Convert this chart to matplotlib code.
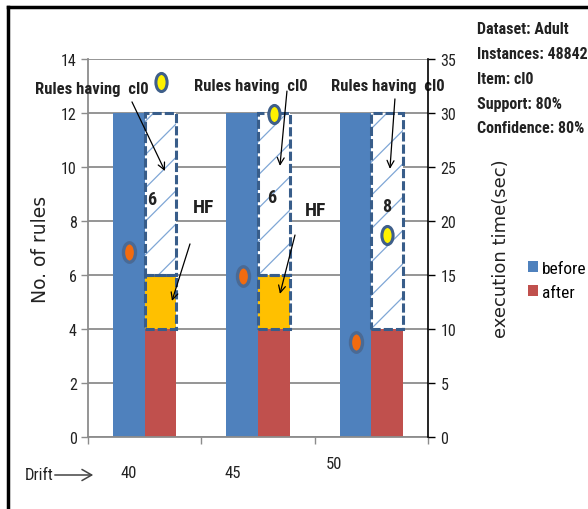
import numpy as np
import matplotlib
matplotlib.use("Agg")
import matplotlib.pyplot as plt
from matplotlib import font_manager
from matplotlib.path import Path
from matplotlib.transforms import Affine2D
from matplotlib.lines import Line2D
from matplotlib.patches import FancyArrowPatch

# valores do grafico
drift = ["40", "45", "50"]
regras_antes = [12, 12, 12]
regras_depois = [4, 4, 4]
regras_hf = [2, 2, 0]
regras_cl0 = [6, 6, 8]
tempo_antes = [17.1, 14.9, 8.8]
tempo_depois = [32.9, 29.9, 18.7]
info = ["Dataset: Adult", "Instances: 48842", "Item: cl0", "Support: 80%", "Confidence: 80%"]

azul = "#4F81BD"
vermelho = "#C0504D"
amarelo = "#FFC000"
borda = "#385D8A"
grade = "#8C8C8C"
texto = "#222222"

# fonte estreita, se houver
instaladas = {f.name for f in font_manager.fontManager.ttflist}
candidatas = ["Liberation Sans Narrow", "DejaVu Sans Condensed", "Roboto Condensed",
              "Open Sans Condensed", "Noto Sans Condensed"]
estreita = [c for c in candidatas if c in instaladas][:1] + ["DejaVu Sans"]
esc = 1.0 if len(estreita) > 1 and estreita[0] != "DejaVu Sans" else 0.86

plt.rcParams["hatch.linewidth"] = 0.9

fig = plt.figure(figsize=(5.88, 5.10), dpi=100)
ax = fig.add_axes([0.1497, 0.1412, 0.578, 0.7412])

x = np.arange(len(drift))
w = 0.28

b1 = ax.bar(x - w / 2, regras_antes, w, color=azul, label="before", zorder=2)
b2 = ax.bar(x + w / 2, regras_depois, w, color=vermelho, label="after", zorder=2)

# caixas tracejadas sobre as barras "after"
base_hf = np.array(regras_depois)
base_cl0 = base_hf + np.array(regras_hf)
ax.bar(x + w / 2, regras_hf, w, bottom=base_hf, color=amarelo, zorder=3)
ax.bar(x + w / 2, regras_cl0, w, bottom=base_cl0, color="white",
       edgecolor="#7FA6D6", hatch="/", linewidth=0, zorder=3)
for i in range(len(drift)):
    if regras_hf[i] > 0:
        ax.bar(x[i] + w / 2, regras_hf[i], w, bottom=base_hf[i], fill=False,
               edgecolor=borda, linewidth=2.2, linestyle=(0, (3, 1)), zorder=4)
    ax.bar(x[i] + w / 2, regras_cl0[i], w, bottom=base_cl0[i], fill=False,
           edgecolor=borda, linewidth=2.2, linestyle=(0, (3, 1)), zorder=4)

ax.set_xlim(-0.5, 2.5)
ax.set_ylim(0, 14)
ax.set_yticks(range(0, 15, 2))
ax.set_xticks([])
ax.set_xticks([-0.5, 0.5, 1.5, 2.5], minor=True)
ax.tick_params(axis="x", which="minor", length=5, color=grade, width=1)
ax.tick_params(axis="y", length=5, color=grade, width=1, labelsize=11.5 * esc,
               labelcolor=texto, pad=3)
for lb in ax.get_yticklabels():
    lb.set_family(estreita)
ax.yaxis.grid(True, color=grade, linewidth=1.3)
ax.set_axisbelow(True)
for s in ["top", "right"]:
    ax.spines[s].set_visible(False)
ax.spines["left"].set_color(grade)
ax.spines["bottom"].set_color(grade)
ax.spines["left"].set_linewidth(1.3)
ax.spines["bottom"].set_linewidth(1.3)
ax.set_ylabel("No. of rules", fontsize=13.5, color=texto, labelpad=8)

# rotulos do eixo x (drift)
desloc_x = [-0.14, -0.22, -0.33]
desloc_y = [-0.095, -0.095, -0.07]
for i, d in enumerate(drift):
    ax.text(x[i] + desloc_x[i], desloc_y[i], d, transform=ax.get_xaxis_transform(),
            ha="center", va="center", fontsize=12 * esc, color=texto, family=estreita)

# anotacoes "Rules having cl0"
pos_rules = [(-0.465, 12.89), (0.938, 13.0), (2.147, 13.0)]
ini_rules = [(-0.112, 12.41), (1.256, 12.81), (2.209, 12.52)]
alvo_rules = [(0.179, 9.85), (1.194, 10.04), (2.165, 9.93)]
pos_num = [(-0.08, 8.8), (-0.02, 8.9), (0.0, 8.55)]
seta = dict(arrowstyle="->,head_length=0.5,head_width=0.25", color="black", lw=0.9,
            shrinkA=0, shrinkB=0)
for i in range(len(drift)):
    ax.text(pos_rules[i][0], pos_rules[i][1], "Rules having  cl0", ha="center",
            va="center", fontsize=12 * esc, fontweight="bold", family=estreita,
            color=texto, zorder=6)
    ax.annotate("", xy=alvo_rules[i], xytext=ini_rules[i], arrowprops=seta, zorder=6)
    ax.text(x[i] + w / 2 + pos_num[i][0], pos_num[i][1],
            str(regras_cl0[i]), ha="center", va="center", fontsize=13 * esc,
            fontweight="bold", family=estreita, color=texto, zorder=6)

# anotacoes "HF"
pos_hf = [(0.515, 8.5), (1.51, 8.4)]
ini_hf = [(0.40, 7.15), (1.327, 7.48)]
alvo_hf = [(0.241, 5.04), (1.194, 5.30)]
for i in range(len(pos_hf)):
    ax.text(pos_hf[i][0], pos_hf[i][1], "HF", ha="center", va="center",
            fontsize=14 * esc, fontweight="bold", family=estreita, color=texto)
    ax.annotate("", xy=alvo_hf[i], xytext=ini_hf[i], arrowprops=seta, zorder=6)

# eixo secundario: tempo de execucao
ax2 = ax.twinx()
ax2.set_ylim(0, 35)
ax2.set_yticks(range(0, 36, 5))
ax2.tick_params(axis="y", length=5, color="black", width=1, labelsize=11.5 * esc,
                labelcolor=texto, pad=4)
for lb in ax2.get_yticklabels():
    lb.set_family(estreita)
for s in ["top", "left", "bottom"]:
    ax2.spines[s].set_visible(False)
ax2.spines["right"].set_color("black")
ax2.spines["right"].set_linewidth(1.2)
ax2.set_ylabel("execution time(sec)", fontsize=13, color=texto, labelpad=26)

elipse = Path.unit_circle().transformed(Affine2D().scale(0.62, 1.0))
ax2.plot(x - w / 2 + 0.005, tempo_antes, linestyle="none", marker=elipse,
         markersize=14, markerfacecolor="#F26B0F", markeredgecolor="#4A6A95",
         markeredgewidth=2.4, zorder=5)
ax2.plot(x + w / 2, tempo_depois, linestyle="none", marker=elipse,
         markersize=13, markerfacecolor="#FFF200", markeredgecolor="#3F5F8A",
         markeredgewidth=2.2, zorder=5)

# legenda
fig.legend(handles=[b1, b2], labels=["before", "after"], loc="upper left",
           bbox_to_anchor=(0.878, 0.51), frameon=False, handlelength=0.55,
           handleheight=0.6, handletextpad=0.25, labelspacing=0.5,
           borderpad=0.2, prop={"family": estreita, "size": 12.5 * esc})

# caixa de informacoes
for k, t in enumerate(info):
    fig.text(0.811, 1 - (30 + 24.7 * k) / 510, t, ha="left", va="center",
             fontsize=11.5 * esc, fontweight="bold", family=estreita, color=texto)

# drift
fig.text(25 / 588, 1 - 476 / 510, "Drift", ha="left", va="center",
         fontsize=12 * esc, family=estreita, color=texto)
fig.add_artist(FancyArrowPatch(
    (52 / 588, 1 - 476 / 510), (96 / 588, 1 - 476 / 510),
    transform=fig.transFigure, arrowstyle="->,head_length=7,head_width=4",
    color="#444444", lw=1.1))

# moldura
fig.add_artist(Line2D([8 / 588, 8 / 588], [0, 1 - 8 / 510],
                      transform=fig.transFigure, color="black", lw=2.5))
fig.add_artist(Line2D([8 / 588, 1], [1 - 8 / 510, 1 - 8 / 510],
                      transform=fig.transFigure, color="black", lw=2.5))

fig.savefig("out.png", dpi=100)
